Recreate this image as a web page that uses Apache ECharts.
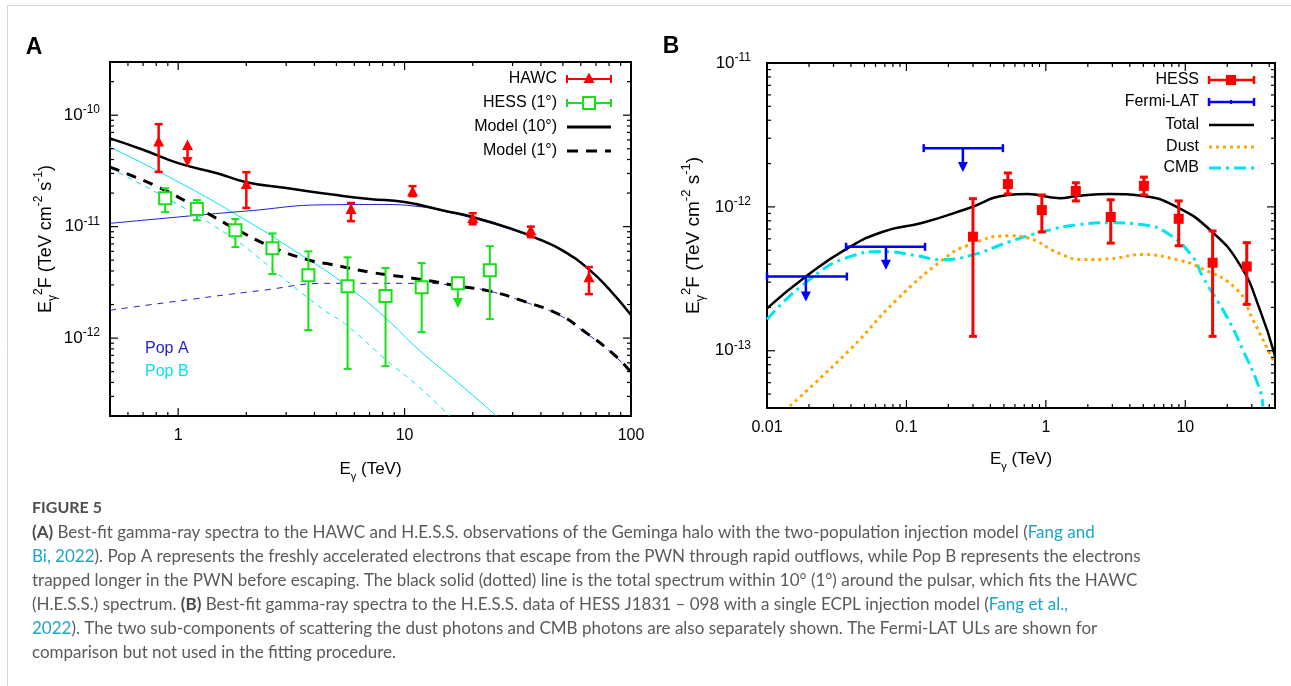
<!DOCTYPE html>
<html><head><meta charset="utf-8">
<script src="https://cdn.jsdelivr.net/npm/echarts@6/dist/echarts.min.js"></script>
<style>html,body{margin:0;padding:0;background:#fff}#c{width:1291px;height:686px}</style>
</head><body><div id="c"></div>
<script>
// ---------------- Panel A data ----------------
const hawcE  = [0.82, 1.1, 2.0, 5.8, 10.85, 20, 36.1, 65.2];
const hawcF  = [5.7e-11, 5.3e-11, 2.36e-11, 1.41e-11, 2.04e-11, 1.17e-11, 9.1e-12, 3.45e-12];
const hawcLo = [3.1e-11, 3.42e-11, 1.47e-11, 1.12e-11, 1.88e-11, 1.05e-11, 8.05e-12, 2.48e-12];
const hawcHi = [8.3e-11, 5.3e-11, 3.08e-11, 1.63e-11, 2.31e-11, 1.32e-11, 1.0e-11, 4.34e-12];
const hawcMode = [0, 1, 0, 0, 0, 0, 0, 0];   // 1 = arrow

const hess1E  = [0.876, 1.21, 1.79, 2.61, 3.76, 5.6, 8.24, 11.9, 17.2, 23.8];
const hess1F  = [1.80e-11, 1.44e-11, 9.3e-12, 6.4e-12, 3.67e-12, 2.92e-12, 2.38e-12, 2.86e-12, 3.11e-12, 4.07e-12];
const hess1Lo = [1.35e-11, 1.14e-11, 6.55e-12, 3.75e-12, 1.18e-12, 5.3e-13, 5.6e-13, 1.13e-12, 1.86e-12, 1.48e-12];
const hess1Hi = [2.21e-11, 1.73e-11, 1.17e-11, 8.7e-12, 6.0e-12, 5.3e-12, 4.25e-12, 4.71e-12, 3.11e-12, 6.68e-12];
const hess1Mode = [0, 0, 0, 0, 0, 0, 0, 0, 1, 0];

const model10E = [0.5, 0.7, 1, 1.5, 2, 3, 5, 7, 10, 15, 20, 30, 40, 50, 65, 80, 100];
const model10F = [6.2e-11, 4.9e-11, 3.71e-11, 3.0e-11, 2.5e-11, 2.22e-11, 1.92e-11, 1.77e-11, 1.66e-11, 1.39e-11, 1.22e-11, 9.5e-12, 7.6e-12, 6.1e-12, 4.16e-12, 2.75e-12, 1.61e-12];

const model1E = [0.5, 0.82, 1.2, 1.8, 2.6, 3.8, 4.7, 7, 11.6, 17.5, 23.7, 34.6, 48.7, 61, 83, 100];
const model1F = [3.42e-11, 2.26e-11, 1.5e-11, 9.5e-12, 6.55e-12, 5.0e-12, 4.6e-12, 3.91e-12, 3.38e-12, 2.92e-12, 2.64e-12, 2.1e-12, 1.61e-12, 1.18e-12, 7.3e-13, 4.95e-13];

const popAE = [0.5, 1, 2, 4.5, 8, 12, 15, 20, 30, 40, 50, 65, 80, 100];
const popAF = [1.07e-11, 1.22e-11, 1.38e-11, 1.57e-11, 1.58e-11, 1.5e-11, 1.37e-11, 1.19e-11, 9.3e-12, 7.45e-12, 6.0e-12, 4.1e-12, 2.72e-12, 1.59e-12];

const popAdE = [0.5, 1, 2.28, 4.66, 11.6, 17, 24, 34.6, 48.7, 61, 83, 100];
const popAdF = [1.78e-12, 2.15e-12, 2.66e-12, 3.1e-12, 3.1e-12, 2.95e-12, 2.62e-12, 2.08e-12, 1.59e-12, 1.17e-12, 7.2e-13, 4.9e-13];

const popBE = [0.5, 0.8, 1.73, 3.8, 5.5, 8.26, 11.6, 16.3, 25.5];
const popBF = [5.16e-11, 3.21e-11, 1.35e-11, 5.0e-12, 2.99e-12, 1.51e-12, 7.8e-13, 4.38e-13, 2.0e-13];

const popBdE = [0.5, 1.01, 1.68, 2.06, 3.1, 4.42, 5.54, 8.3, 11.6, 15.8];
const popBdF = [3.35e-11, 1.56e-11, 8.3e-12, 6.15e-12, 3.11e-12, 1.78e-12, 1.31e-12, 6.35e-13, 3.63e-13, 2.0e-13];

// ---------------- Panel B data ----------------
const hessE  = [0.30, 0.534, 0.936, 1.64, 2.92, 5.05, 8.97, 15.7, 27.6];
const hessF  = [6.2e-13, 1.44e-12, 9.5e-13, 1.29e-12, 8.5e-13, 1.4e-12, 8.26e-13, 4.09e-13, 3.85e-13];
const hessLo = [1.26e-13, 1.23e-12, 6.7e-13, 1.1e-12, 5.6e-13, 1.21e-12, 5.37e-13, 1.26e-13, 2.1e-13];
const hessHi = [1.14e-12, 1.72e-12, 1.21e-12, 1.47e-12, 1.12e-12, 1.61e-12, 1.1e-12, 6.8e-13, 5.64e-13];

const fermiE   = [0.019, 0.0713, 0.254];
const fermiElo = [0.01, 0.0369, 0.133];
const fermiEhi = [0.0374, 0.136, 0.492];
const fermiUL  = [3.28e-13, 5.28e-13, 2.56e-12];
const fermiTip = [2.2e-13, 3.66e-13, 1.75e-12];

const totalE = [0.01, 0.019, 0.0374, 0.0678, 0.131, 0.272, 0.534, 0.73, 1.26, 1.67, 2.87, 4.97, 8.64, 15, 24.6, 34.2, 44];
const totalF = [1.97e-13, 3.28e-13, 5.12e-13, 6.72e-13, 7.75e-13, 9.7e-13, 1.21e-12, 1.23e-12, 1.15e-12, 1.19e-12, 1.23e-12, 1.19e-12, 1.0e-12, 6.93e-13, 3.97e-13, 1.94e-13, 9.2e-14];

const dustE = [0.0146, 0.0394, 0.0855, 0.183, 0.272, 0.55, 0.73, 1.26, 1.84, 2.87, 4.97, 8.64, 12.7, 23.4, 30.5, 42.4, 44];
const dustF = [4.13e-14, 1.02e-13, 2.27e-13, 4.3e-13, 5.37e-13, 6.3e-13, 6.1e-13, 4.73e-13, 4.3e-13, 4.36e-13, 4.66e-13, 4.3e-13, 3.79e-13, 2.67e-13, 1.65e-13, 8.7e-14, 8.2e-14];

const cmbE = [0.01, 0.0194, 0.0394, 0.0678, 0.119, 0.174, 0.285, 0.55, 0.95, 1.67, 2.87, 4.97, 7.36, 11.3, 13.3, 19.8, 25.8, 34.2, 36];
const cmbF = [1.65e-13, 3.03e-13, 4.51e-13, 4.89e-13, 4.58e-13, 4.3e-13, 4.58e-13, 5.73e-13, 6.72e-13, 7.5e-13, 7.75e-13, 7.5e-13, 6.6e-13, 4.5e-13, 3.28e-13, 1.73e-13, 1.02e-13, 5.4e-14, 4.1e-14];

// axis ranges
const axA = {xmin: 0.5, xmax: 100, ymin: 2e-13, ymax: 3e-10};
const axB = {xmin: 0.01, xmax: 44, ymin: 4e-14, ymax: 1e-11};

// ---------------- helpers ----------------
const FONT = '"Liberation Sans", Arial, sans-serif';
const RED = '#ff0000', GREEN = '#18e018', BLUE = '#0000ff', POPA = '#1e1ed0', CYAN = '#00e4ef', ORANGE = '#ffa500';

function isDecade(v){ const l = Math.log10(v); return Math.abs(l - Math.round(l)) < 1e-6; }
function powLabel(v){ if(!isDecade(v)) return ''; return '{b|10}{s|' + Math.round(Math.log10(v)) + '}'; }
function plainLabel(v){ if(!isDecade(v)) return ''; return String(Number(Math.pow(10, Math.round(Math.log10(v))).toPrecision(3))); }

const tickRich = {
  b: {fontSize: 17, fontFamily: FONT, color: '#000', lineHeight: 22},
  s: {fontSize: 12, fontFamily: FONT, color: '#000', verticalAlign: 'top', lineHeight: 8}
};
function nameRich(fs){
  return {
    a: {fontSize: fs, fontFamily: FONT, color: '#000', lineHeight: fs + 8},
    sub: {fontSize: fs - 6, fontFamily: FONT, color: '#000', verticalAlign: 'bottom', lineHeight: fs - 6},
    sup: {fontSize: fs - 6, fontFamily: FONT, color: '#000', verticalAlign: 'top', lineHeight: fs - 9}
  };
}
const xName = '{a|E}{sub|γ}{a| (TeV)}';
const yName = '{a|E}{sub|γ}{sup|2}{a|F (TeV cm}{sup|-2}{a| s}{sup|-1}{a|)}';

function logVals(a, b){
  const out = [];
  for (let e = Math.floor(Math.log10(a)) - 1; e <= Math.ceil(Math.log10(b)); e++)
    for (let k = 1; k <= 9; k++){
      const v = k * Math.pow(10, e);
      if (v >= a * 0.9999 && v <= b * 1.0001) out.push([v, k === 1 ? 1 : 0]);
    }
  return out;
}
function tickData(ax){
  const d = [];
  logVals(ax.xmin, ax.xmax).forEach(t => d.push([t[0], ax.ymin, 0, t[1]]));
  logVals(ax.ymin, ax.ymax).forEach(t => d.push([ax.xmin, t[0], 1, t[1]]));
  return d;
}
function tickRender(params, api){
  const cs = params.coordSys;
  const kind = api.value(2), major = api.value(3);
  const len = major ? 8 : 4;
  const st = {stroke: '#000', lineWidth: 1.2};
  if (kind === 0){
    const px = api.coord([api.value(0), api.value(1)])[0];
    return {type: 'group', children: [
      {type: 'line', shape: {x1: px, y1: cs.y + cs.height, x2: px, y2: cs.y + cs.height - len}, style: st},
      {type: 'line', shape: {x1: px, y1: cs.y, x2: px, y2: cs.y + len}, style: st}
    ]};
  }
  const py = api.coord([api.value(0), api.value(1)])[1];
  return {type: 'group', children: [
    {type: 'line', shape: {x1: cs.x, y1: py, x2: cs.x + len, y2: py}, style: st},
    {type: 'line', shape: {x1: cs.x + cs.width, y1: py, x2: cs.x + cs.width - len, y2: py}, style: st}
  ]};
}
function markerShape(kind, x, y, color){
  if (kind === 'tri') return {type: 'polygon', shape: {points: [[x, y - 6.5], [x - 5.5, y + 4], [x + 5.5, y + 4]]}, style: {fill: color}};
  if (kind === 'sq') return {type: 'rect', shape: {x: x - 5, y: y - 5, width: 10, height: 10}, style: {fill: color}};
  if (kind === 'osq') return {type: 'rect', shape: {x: x - 6, y: y - 6, width: 12, height: 12}, style: {fill: '#fff', stroke: color, lineWidth: 2}};
  return null;
}
function errItem(o){
  return function(params, api){
    const E = api.value(0), F = api.value(1), lo = api.value(2), hi = api.value(3), mode = api.value(4);
    const c = api.coord([E, F]), pl = api.coord([E, lo]), ph = api.coord([E, hi]);
    const x = c[0];
    const st = {stroke: o.color, lineWidth: o.lw};
    const ch = [];
    if (mode === 1){
      ch.push({type: 'line', shape: {x1: x, y1: c[1], x2: x, y2: pl[1] - 8}, style: st});
      ch.push({type: 'polygon', shape: {points: [[x - 5, pl[1] - 10], [x + 5, pl[1] - 10], [x, pl[1]]]}, style: {fill: o.color}});
    } else {
      ch.push({type: 'line', shape: {x1: x, y1: ph[1], x2: x, y2: pl[1]}, style: st});
      ch.push({type: 'line', shape: {x1: x - o.cap, y1: ph[1], x2: x + o.cap, y2: ph[1]}, style: st});
      ch.push({type: 'line', shape: {x1: x - o.cap, y1: pl[1], x2: x + o.cap, y2: pl[1]}, style: st});
    }
    ch.push(markerShape(o.marker, x, c[1], o.color));
    return {type: 'group', children: ch};
  };
}
function fermiItem(params, api){
  const E = api.value(0), F = api.value(1), El = api.value(2), Eh = api.value(3), tip = api.value(4);
  const c = api.coord([E, F]), a = api.coord([El, F]), b = api.coord([Eh, F]), t = api.coord([E, tip]);
  const st = {stroke: BLUE, lineWidth: 2.5};
  return {type: 'group', children: [
    {type: 'line', shape: {x1: a[0], y1: a[1], x2: b[0], y2: b[1]}, style: st},
    {type: 'line', shape: {x1: a[0], y1: a[1] - 4, x2: a[0], y2: a[1] + 4}, style: st},
    {type: 'line', shape: {x1: b[0], y1: b[1] - 4, x2: b[0], y2: b[1] + 4}, style: st},
    {type: 'line', shape: {x1: c[0], y1: c[1], x2: c[0], y2: t[1] - 8}, style: st},
    {type: 'polygon', shape: {points: [[c[0] - 5, t[1] - 10], [c[0] + 5, t[1] - 10], [c[0], t[1]]]}, style: {fill: BLUE}}
  ]};
}
function curve(xs, ys, gi, color, width, dash, z){
  return {type: 'line', xAxisIndex: gi, yAxisIndex: gi, data: xs.map((x, i) => [x, ys[i]]),
    showSymbol: false, symbol: 'none', smooth: 0.5, silent: true, clip: true, z: z || 2,
    lineStyle: {color: color, width: width, type: dash || 'solid', cap: 'butt', join: 'round'}};
}
function zip(){ const arrs = Array.from(arguments); return arrs[0].map((_, i) => arrs.map(a => a[i])); }

function xAxisDef(gi, ax, margin, gap){
  return {type: 'log', logBase: 10, gridIndex: gi, min: ax.xmin, max: ax.xmax,
    axisLine: {show: false}, axisTick: {show: false}, splitLine: {show: false}, minorTick: {show: false},
    axisLabel: {formatter: plainLabel, margin: margin, fontSize: 16, fontFamily: FONT, color: '#000', showMinLabel: true, showMaxLabel: true},
    name: xName, nameLocation: 'middle', nameGap: gap, nameTextStyle: {rich: nameRich(17)}};
}
function yAxisDef(gi, ax, margin, gap, fs){
  return {type: 'log', logBase: 10, gridIndex: gi, min: ax.ymin, max: ax.ymax,
    axisLine: {show: false}, axisTick: {show: false}, splitLine: {show: false}, minorTick: {show: false},
    axisLabel: {formatter: powLabel, margin: margin, rich: tickRich, showMinLabel: true, showMaxLabel: true},
    name: yName, nameLocation: 'middle', nameRotate: 90, nameGap: gap, nameTextStyle: {rich: nameRich(fs)}};
}

// ---------------- graphics (frame, panel letters, legends, caption) ----------------
const G = [];
G.push({type: 'rect', shape: {x: 7.5, y: 5.5, width: 1400, height: 800}, style: {fill: 'none', stroke: '#d4d4d4', lineWidth: 1}, z: -10, silent: true});
G.push({type: 'text', x: 34, y: 48, style: {text: 'A', font: 'bold 23px ' + FONT, fill: '#000', align: 'center', verticalAlign: 'middle'}});
G.push({type: 'text', x: 671, y: 47, style: {text: 'B', font: 'bold 23px ' + FONT, fill: '#000', align: 'center', verticalAlign: 'middle'}});

function legText(xr, y, t){ G.push({type: 'text', x: xr, y: y, style: {text: t, font: '16px ' + FONT, fill: '#000', align: 'right', verticalAlign: 'middle'}}); }
function legLine(x1, x2, y, color, lw, dash){ G.push({type: 'line', shape: {x1: x1, y1: y, x2: x2, y2: y}, style: {stroke: color, lineWidth: lw, lineDash: dash || null}}); }
function legCaps(x1, x2, y, color, lw){
  G.push({type: 'line', shape: {x1: x1, y1: y - 4, x2: x1, y2: y + 4}, style: {stroke: color, lineWidth: lw}});
  G.push({type: 'line', shape: {x1: x2, y1: y - 4, x2: x2, y2: y + 4}, style: {stroke: color, lineWidth: lw}});
}
// Panel A legend
(function(){
  const xr = 557, x1 = 567, x2 = 611, xm = 589;
  legText(xr, 79, 'HAWC'); legLine(x1, x2, 79, RED, 2); legCaps(x1, x2, 79, RED, 2); G.push(markerShape('tri', xm, 79, RED));
  legText(xr, 103, 'HESS (1°)'); legLine(x1, x2, 103, GREEN, 2); legCaps(x1, x2, 103, GREEN, 2); G.push(markerShape('osq', xm, 103, GREEN));
  legText(xr, 127, 'Model (10°)'); legLine(x1, x2, 127, '#000', 3);
  legText(xr, 151, 'Model (1°)'); legLine(x1, x2, 151, '#000', 3, [11, 8]);
  G.push({type: 'text', x: 145, y: 349, style: {text: 'Pop A', font: '16px ' + FONT, fill: POPA, align: 'left', verticalAlign: 'middle'}});
  G.push({type: 'text', x: 145, y: 372, style: {text: 'Pop B', font: '16px ' + FONT, fill: CYAN, align: 'left', verticalAlign: 'middle'}});
})();
// Panel B legend
(function(){
  const xr = 1199, x1 = 1209, x2 = 1254, xm = 1231;
  legText(xr, 80, 'HESS'); legLine(x1, x2, 80, RED, 2.5); legCaps(x1, x2, 80, RED, 2.5); G.push(markerShape('sq', xm, 80, RED));
  legText(xr, 102, 'Fermi-LAT'); legLine(x1, x2, 102, BLUE, 2.5); legCaps(x1, x2, 102, BLUE, 2.5);
  G.push({type: 'line', shape: {x1: xm, y1: 100, x2: xm, y2: 104}, style: {stroke: BLUE, lineWidth: 2}});
  legText(xr, 125, 'Total'); legLine(x1, x2, 125, '#000', 2.5);
  legText(xr, 147, 'Dust'); legLine(x1, x2, 147, ORANGE, 3, [3, 4]);
  legText(xr, 168, 'CMB'); legLine(x1, x2, 168, CYAN, 3, [12, 5, 3, 5]);
})();

// Caption
const capLines = [
  [['b', '(A)'], ['n', ' Best-fit gamma-ray spectra to the HAWC and H.E.S.S. observations of the Geminga halo with the two-population injection model ('], ['l', 'Fang and']],
  [['l', 'Bi, 2022'], ['n', '). Pop A represents the freshly accelerated electrons that escape from the PWN through rapid outflows, while Pop B represents the electrons']],
  [['n', 'trapped longer in the PWN before escaping. The black solid (dotted) line is the total spectrum within 10° (1°) around the pulsar, which fits the HAWC']],
  [['n', '(H.E.S.S.) spectrum. '], ['b', '(B)'], ['n', ' Best-fit gamma-ray spectra to the H.E.S.S. data of HESS J1831 – 098 with a single ECPL injection model ('], ['l', 'Fang et al.,']],
  [['l', '2022'], ['n', '). The two sub-components of scattering the dust photons and CMB photons are also separately shown. The Fermi-LAT ULs are shown for']],
  [['n', 'comparison but not used in the fitting procedure.']]
];
const CAPFONT = 'Lato, "Open Sans", sans-serif';
const mctx = document.createElement('canvas').getContext('2d');
mctx.font = '16px ' + CAPFONT;
const w2 = mctx.measureText(capLines[1].map(s => s[1]).join('')).width;
const capFS = Math.round(16 * 1106 / w2 * 10) / 10;
const capRich = {
  n: {fontSize: capFS, fontFamily: CAPFONT, fill: '#5a5a5a', color: '#5a5a5a'},
  b: {fontSize: capFS, fontFamily: CAPFONT, fontWeight: 'bold', fill: '#4a4a4a', color: '#4a4a4a'},
  l: {fontSize: capFS, fontFamily: CAPFONT, fill: '#1ea4c8', color: '#1ea4c8'}
};
G.push({type: 'text', x: 32, y: 508, style: {text: 'FIGURE 5', font: 'bold 16px ' + CAPFONT, fill: '#4f4f4f', align: 'left', verticalAlign: 'middle'}});
const capY = [533, 557, 581, 605, 629, 653];
capLines.forEach((ln, i) => {
  G.push({type: 'text', x: 32, y: capY[i], style: {text: ln.map(s => '{' + s[0] + '|' + s[1] + '}').join(''), rich: capRich, align: 'left', verticalAlign: 'middle'}});
});

// ---------------- chart ----------------
const chart = echarts.init(document.getElementById('c'));
chart.setOption({
  animation: false,
  backgroundColor: '#fff',
  grid: [
    {left: 110, top: 62, width: 521, height: 354, show: true, borderColor: '#000', borderWidth: 2, backgroundColor: 'transparent'},
    {left: 767, top: 63, width: 508, height: 345, show: true, borderColor: '#000', borderWidth: 2, backgroundColor: 'transparent'}
  ],
  xAxis: [xAxisDef(0, axA, 12, 41), xAxisDef(1, axB, 12, 39)],
  yAxis: [yAxisDef(0, axA, 10, 51, 18), yAxisDef(1, axB, 16, 60, 19)],
  graphic: G,
  series: [
    // panel A curves
    curve(popBE, popBF, 0, CYAN, 1),
    curve(popBdE, popBdF, 0, CYAN, 1, [5, 5]),
    curve(popAE, popAF, 0, POPA, 1),
    curve(popAdE, popAdF, 0, POPA, 1, [6, 6]),
    curve(model10E, model10F, 0, '#000', 2.5, 'solid', 3),
    curve(model1E, model1F, 0, '#000', 3, [10, 8], 3),
    {type: 'custom', xAxisIndex: 0, yAxisIndex: 0, z: 5, clip: false, silent: true,
      data: zip(hess1E, hess1F, hess1Lo, hess1Hi, hess1Mode),
      renderItem: errItem({color: GREEN, lw: 2, cap: 4, marker: 'osq'})},
    {type: 'custom', xAxisIndex: 0, yAxisIndex: 0, z: 6, clip: false, silent: true,
      data: zip(hawcE, hawcF, hawcLo, hawcHi, hawcMode),
      renderItem: errItem({color: RED, lw: 2.5, cap: 4, marker: 'tri'})},
    {type: 'custom', xAxisIndex: 0, yAxisIndex: 0, z: 7, clip: false, silent: true,
      data: tickData(axA), renderItem: tickRender},
    // panel B curves
    curve(cmbE, cmbF, 1, CYAN, 3, [12, 5, 3, 5]),
    curve(dustE, dustF, 1, ORANGE, 3, [3, 4]),
    curve(totalE, totalF, 1, '#000', 2.5, 'solid', 3),
    {type: 'custom', xAxisIndex: 1, yAxisIndex: 1, z: 5, clip: false, silent: true,
      data: zip(fermiE, fermiUL, fermiElo, fermiEhi, fermiTip), renderItem: fermiItem},
    {type: 'custom', xAxisIndex: 1, yAxisIndex: 1, z: 6, clip: false, silent: true,
      data: zip(hessE, hessF, hessLo, hessHi, hessE.map(() => 0)),
      renderItem: errItem({color: RED, lw: 3, cap: 4, marker: 'sq'})},
    {type: 'custom', xAxisIndex: 1, yAxisIndex: 1, z: 7, clip: false, silent: true,
      data: tickData(axB), renderItem: tickRender}
  ]
});
</script>
</body></html>
